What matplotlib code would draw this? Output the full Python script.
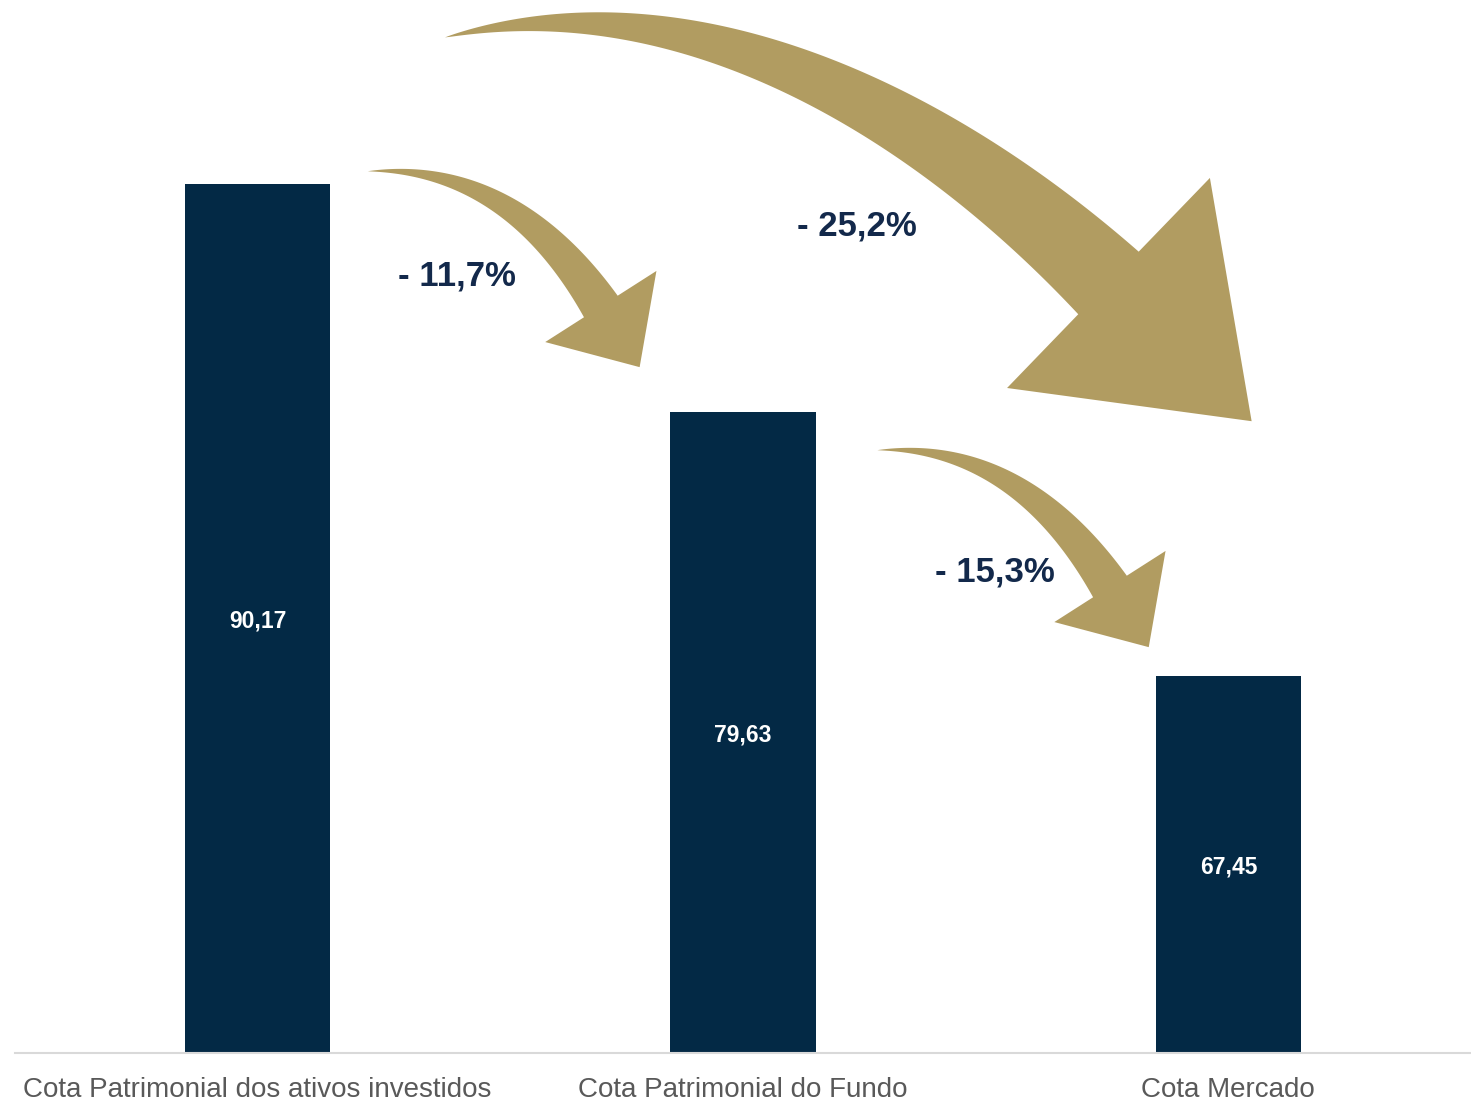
import numpy as np
import matplotlib.pyplot as plt
from matplotlib.patches import Polygon

# dados
categorias = ['Cota Patrimonial dos ativos investidos',
              'Cota Patrimonial do Fundo',
              'Cota Mercado']
valores = [90.17, 79.63, 67.45]

azul = '#032945'
dourado = '#b19c61'
cinza = '#595959'

plt.rcParams['font.family'] = ['Liberation Sans', 'DejaVu Sans']

fig = plt.figure(figsize=(14.71, 11.01), dpi=100)
ax = fig.add_axes([15 / 1471, 48 / 1101, 1 - 15 / 1471, 1 - 48 / 1101])

y_min = 50
x = np.arange(len(valores))
ax.bar(x, valores, width=0.3, color=azul, zorder=2)
ax.set_xlim(-0.5, 2.5)
ax.set_ylim(y_min, 98.7)

# valores dentro das barras
for xi, v in zip(x, valores):
    ax.text(xi, (v + y_min) / 2, f'{v:.2f}'.replace('.', ','),
            ha='center', va='center_baseline', color='white',
            fontsize=16.5, fontweight='bold', zorder=3)

ax.set_xticks(x)
ax.set_xticklabels(categorias, fontsize=20, color=cinza)
ax.tick_params(axis='x', length=0, pad=17)
ax.set_yticks([])
for s in ['top', 'left', 'right']:
    ax.spines[s].set_visible(False)
ax.spines['bottom'].set_color('#d9d9d9')
ax.spines['bottom'].set_linewidth(1.5)


def seta_curva(ax, cauda, ponta, ang_ini, ang_cab, larg, larg_cab, comp_cab, k=0.35, p=0.9):
    # seta curva desenhada em pixels e devolvida em coordenadas de dados
    tr = ax.transData
    p0 = np.array(tr.transform(cauda))
    tp = np.array(tr.transform(ponta))
    ds = np.array([np.cos(np.radians(ang_ini)), np.sin(np.radians(ang_ini))])
    dh = np.array([np.cos(np.radians(ang_cab)), np.sin(np.radians(ang_cab))])
    b = tp - comp_cab * dh
    L = np.linalg.norm(b - p0)
    c1 = p0 + k * L * ds
    c2 = b - k * L * dh
    t = np.linspace(0, 1, 150)[:, None]
    pts = (1 - t)**3 * p0 + 3 * (1 - t)**2 * t * c1 + 3 * (1 - t) * t**2 * c2 + t**3 * b
    der = 3 * (1 - t)**2 * (c1 - p0) + 6 * (1 - t) * t * (c2 - c1) + 3 * t**2 * (b - c2)
    der = der / np.linalg.norm(der, axis=1)[:, None]
    nrm = np.column_stack([-der[:, 1], der[:, 0]])
    w = larg * t**p
    esq = pts + nrm * w / 2
    dir_ = pts - nrm * w / 2
    n_fim = np.array([-dh[1], dh[0]])
    poly = np.vstack([esq, b + n_fim * larg_cab / 2, tp, b - n_fim * larg_cab / 2, dir_[::-1]])
    ax.add_patch(Polygon(tr.inverted().transform(poly), closed=True,
                         facecolor=dourado, edgecolor='none', zorder=1))


seta_curva(ax, (0.227, 90.78), (0.787, 81.72), 3, -57.4, 40, 132, 72, k=0.38)
seta_curva(ax, (1.277, 77.88), (1.836, 68.77), 3, -57.4, 40, 132, 72, k=0.38)
seta_curva(ax, (0.386, 96.97), (2.048, 79.22), 14, -44, 87, 292, 199, k=0.35, p=0.85)

# variações percentuais
def variacao(i, j):
    p = (valores[j] / valores[i] - 1) * 100
    return f'- {abs(p):.1f}%'.replace('.', ',')

for (i, j), (tx, ty) in zip([(0, 1), (0, 2), (1, 2)],
                            [(0.41, 85.92), (1.234, 88.23), (1.52, 72.24)]):
    ax.text(tx, ty, variacao(i, j), ha='center', va='center', color='#13294b',
            fontsize=25, fontweight='bold', zorder=3)

plt.savefig('out.png', dpi=100)
